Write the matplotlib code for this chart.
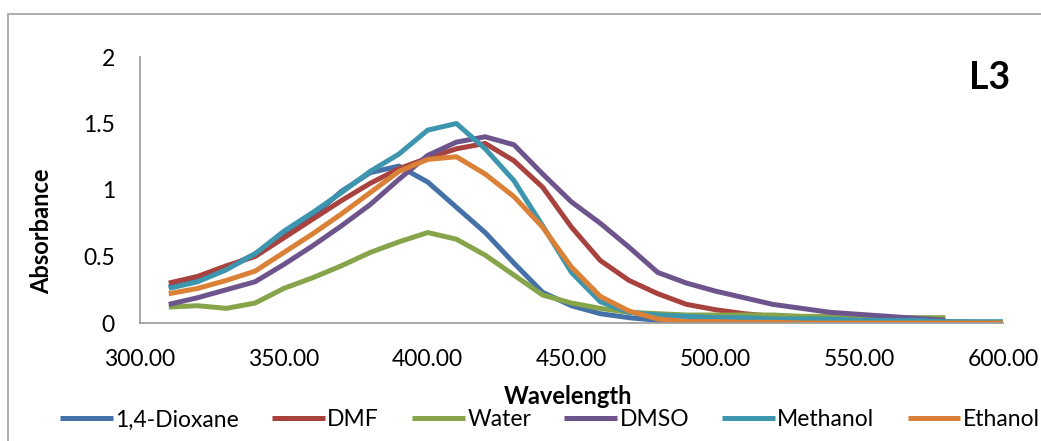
import matplotlib
matplotlib.use("Agg")
import matplotlib.pyplot as plt
from matplotlib.patches import Rectangle

# wavelength grid (nm)
wl = [310, 320, 330, 340, 350, 360, 370, 380, 390, 400, 410, 420, 430, 440, 450,
      460, 470, 480, 490, 500, 510, 520, 530, 540, 550, 560, 570, 580, 590, 600]
wl_short = wl[:28]  # water and DMSO stop at 580

dioxane = [0.27, 0.33, 0.41, 0.52, 0.66, 0.80, 0.99, 1.13, 1.18, 1.06, 0.87, 0.68, 0.45, 0.23, 0.13,
           0.07, 0.04, 0.02, 0.015, 0.01, 0.01, 0.01, 0.01, 0.01, 0.01, 0.005, 0.005, 0.0, 0.0, 0.0]
dmf = [0.30, 0.35, 0.43, 0.50, 0.64, 0.78, 0.92, 1.05, 1.16, 1.24, 1.31, 1.35, 1.22, 1.02, 0.72,
       0.47, 0.32, 0.22, 0.14, 0.10, 0.07, 0.05, 0.04, 0.03, 0.02, 0.015, 0.01, 0.01, 0.005, 0.0]
water = [0.12, 0.13, 0.11, 0.15, 0.26, 0.34, 0.43, 0.53, 0.61, 0.68, 0.63, 0.51, 0.36, 0.21,
         0.15, 0.11, 0.08, 0.07, 0.06, 0.06, 0.06, 0.06, 0.05, 0.05, 0.05, 0.04, 0.04, 0.04]
dmso = [0.14, 0.19, 0.25, 0.31, 0.44, 0.58, 0.73, 0.89, 1.08, 1.26, 1.36, 1.40, 1.34, 1.12,
        0.91, 0.75, 0.57, 0.38, 0.30, 0.24, 0.19, 0.14, 0.11, 0.08, 0.065, 0.05, 0.035, 0.02]
methanol = [0.26, 0.31, 0.40, 0.52, 0.69, 0.83, 0.98, 1.14, 1.27, 1.45, 1.50, 1.31, 1.07, 0.73, 0.38,
            0.16, 0.08, 0.06, 0.05, 0.04, 0.04, 0.03, 0.03, 0.03, 0.02, 0.02, 0.02, 0.01, 0.01, 0.01]
ethanol = [0.22, 0.26, 0.32, 0.39, 0.53, 0.67, 0.82, 0.98, 1.14, 1.23, 1.25, 1.12, 0.95, 0.72, 0.42,
           0.20, 0.09, 0.03, 0.01, 0.01, 0.005, 0.005, 0.0, 0.0, 0.0, 0.0, 0.0, 0.0, 0.0, 0.0]

labels = ["1,4-Dioxane", "DMF", "Water", "DMSO", "Methanol", "Ethanol"]
colors = ["#4472A8", "#A8423F", "#86A44A", "#6E548D", "#3D96AE", "#DA8137"]

plt.rcParams.update({"font.family": ["Lato", "DejaVu Sans"], "font.size": 17})

fig = plt.figure(figsize=(10.41, 4.41), dpi=100)
ax = fig.add_axes([140 / 1041, 1 - 323 / 441, 863 / 1041, 266 / 441])

series = [(wl, dioxane), (wl, dmf), (wl_short, water), (wl_short, dmso), (wl, methanol), (wl, ethanol)]
for (x, y), lab, c in zip(series, labels, colors):
    ax.plot(x, y, color=c, lw=3.6, label=lab, solid_capstyle="butt", solid_joinstyle="round")

ax.set_xlim(300, 600)
ax.set_ylim(0, 2)
ax.set_xticks([300, 350, 400, 450, 500, 550, 600])
ax.set_xticklabels([f"{v:.2f}" for v in ax.get_xticks()])
ax.set_yticks([0, 0.5, 1, 1.5, 2])
ax.set_yticklabels(["0", "0.5", "1", "1.5", "2"])
ax.tick_params(axis="both", length=0, labelsize=16.5)
ax.tick_params(axis="x", pad=19)
ax.tick_params(axis="y", pad=18)
ax.spines[["top", "right"]].set_visible(False)
for s in ("left", "bottom"):
    ax.spines[s].set_color("#999999")
    ax.spines[s].set_linewidth(1.2)

fig.text(568 / 1041, 1 - 397 / 441, "Wavelength", ha="center", va="center",
         fontsize=17, fontweight="bold")
fig.text(42 / 1041, 1 - 231 / 441, "Absorbance", ha="center", va="center",
         rotation=90, fontsize=17, fontweight="bold")
fig.text(990 / 1041, 1 - 78 / 441, "L3", ha="center", va="center",
         fontsize=27, fontweight="bold")

fig.legend(loc="center", bbox_to_anchor=(550 / 1041, 1 - 420 / 441), ncol=6,
           frameon=False, handlelength=2.3, handletextpad=0.1, columnspacing=1.45,
           fontsize=16.5)

fig.patches.append(Rectangle((8 / 1041, -0.1), 1.2, 0.1 + 1 - 14 / 441,
                             transform=fig.transFigure, fill=False,
                             edgecolor="#a0a0a0", lw=1.2))

fig.savefig("out.png", dpi=100)
